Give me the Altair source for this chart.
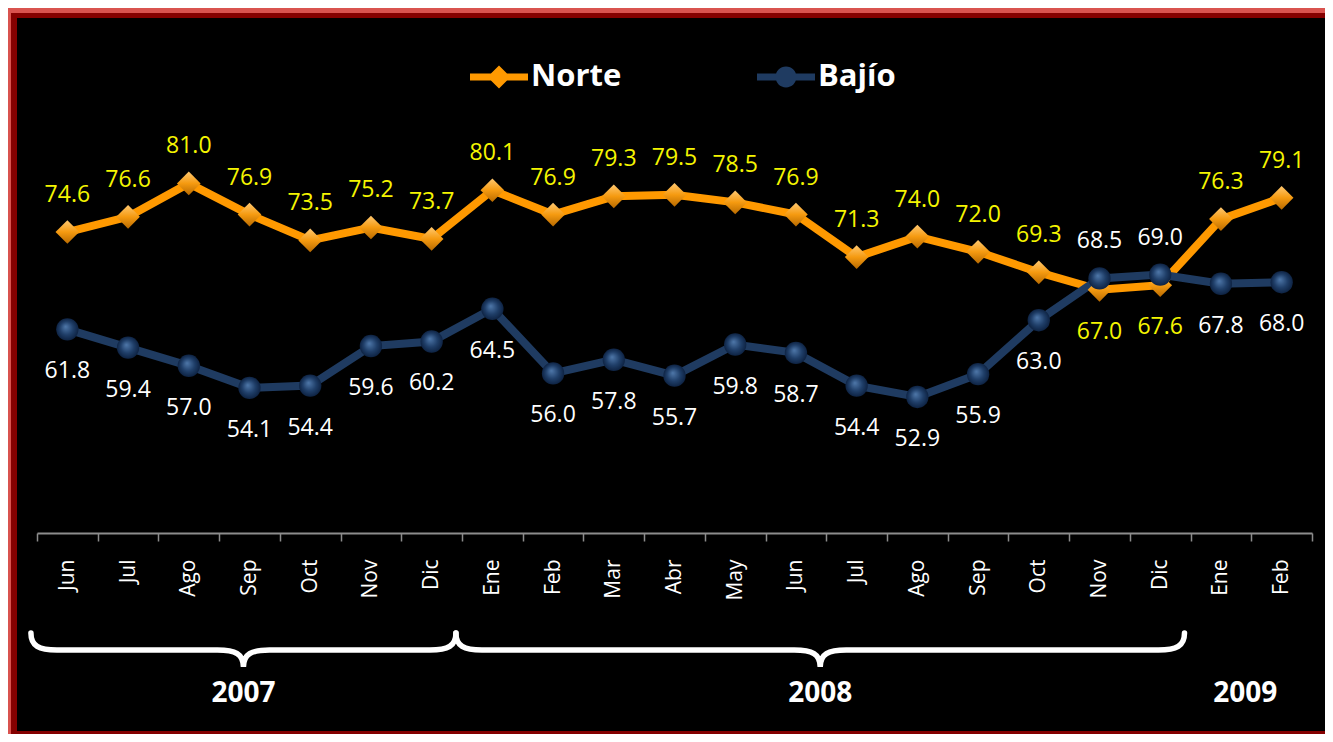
import math
import altair as alt
import pandas as pd

# ---------------- data ----------------
months = ["Jun", "Jul", "Ago", "Sep", "Oct", "Nov", "Dic",
          "Ene", "Feb", "Mar", "Abr", "May", "Jun", "Jul", "Ago", "Sep", "Oct", "Nov", "Dic",
          "Ene", "Feb"]
years = ["2007"] * 7 + ["2008"] * 12 + ["2009"] * 2
norte = [74.6, 76.6, 81.0, 76.9, 73.5, 75.2, 73.7, 80.1, 76.9, 79.3, 79.5,
         78.5, 76.9, 71.3, 74.0, 72.0, 69.3, 67.0, 67.6, 76.3, 79.1]
bajio = [61.8, 59.4, 57.0, 54.1, 54.4, 59.6, 60.2, 64.5, 56.0, 57.8, 55.7,
         59.8, 58.7, 54.4, 52.9, 55.9, 63.0, 68.5, 69.0, 67.8, 68.0]
series = ["Norte", "Bajío"]
year_labels = ["2007", "2008", "2009"]
braced_years = ["2007", "2008"]

# ---------------- styles / layout ----------------
ORANGE = "#FF9900"
NAVY = "#1F3B61"
YELLOW = "#F5F500"
W, H = 1275, 456
PAD = {"left": 29, "top": 69, "right": 13, "bottom": 201}
FONT = "Open Sans"
SHIFT = 0.1  # year groups sit slightly left of the band boundaries

keys = [f"{m} {y}" for m, y in zip(months, years)]
rows = []
for i, k in enumerate(keys):
    for s, vals, other in (("Norte", norte, bajio), ("Bajío", bajio, norte)):
        rows.append({"key": k, "idx": i, "serie": s, "value": vals[i],
                     "top": vals[i] >= other[i]})
df = pd.DataFrame(rows)

step = W / len(keys)


def brace_path(w):
    h, r, k = 17.0, 26.0, 8.0
    pts = [("M", [-w, -h]), ("C", [-w, -4, -w + k, 0, -w + r, 0]), ("L", [-r, 0]),
           ("C", [-k, 0, 0, 4, 0, h]), ("C", [0, 4, k, 0, r, 0]), ("L", [w - r, 0]),
           ("C", [w - k, 0, w, -4, w, -h])]
    return " ".join(cmd + " ".join(f"{n / w:.4f}" for n in nums) for cmd, nums in pts)


yrows = []
for y in year_labels:
    idxs = [i for i, yy in enumerate(years) if yy == y]
    start, end = min(idxs), max(idxs) + 1
    mid = (start + end) / 2 - SHIFT
    anchor = math.floor(mid)
    half = (end - start) * step / 2
    yrows.append({"year": y, "anchor": keys[anchor], "frac": round(mid - anchor, 3),
                  "half": half})
ydf = pd.DataFrame(yrows)

band_scale = alt.Scale(type="band", domain=keys, paddingInner=0, paddingOuter=0)
x_enc = alt.X("key:N", sort=keys, scale=band_scale,
              axis=alt.Axis(title=None, labelAngle=270, labelColor="white",
                            labelFont=FONT, labelFontSize=21, labelPadding=18,
                            tickSize=8, tickColor="#8c8c8c", tickWidth=1.5,
                            domainColor="#8c8c8c", domainWidth=2,
                            tickBand="extent", grid=False, zindex=1,
                            labelExpr="isValid(datum.value) ? split(datum.value, ' ')[0] : ''"))
y_enc = alt.Y("value:Q", scale=alt.Scale(domain=[35, 95], nice=False, zero=False), axis=None)

dummy = pd.DataFrame({"a": [0]})
bg_light = alt.Chart(dummy).mark_rect(color="#D9534F").encode(
    x=alt.value(-29), x2=alt.value(1500), y=alt.value(-69), y2=alt.value(800))
bg_dark = alt.Chart(dummy).mark_rect(color="#840000").encode(
    x=alt.value(-26), x2=alt.value(1500), y=alt.value(-64), y2=alt.value(800))
bg_black = alt.Chart(dummy).mark_rect(color="black").encode(
    x=alt.value(-20), x2=alt.value(1500), y=alt.value(-59), y2=alt.value(654))

base = alt.Chart(df)

diamond_fill = alt.Gradient(
    gradient="linear", x1=0, y1=0, x2=0, y2=1,
    stops=[alt.GradientStop(color="#FFC870", offset=0),
           alt.GradientStop(color="#F59A10", offset=0.5),
           alt.GradientStop(color="#B86A00", offset=1)])
sphere_fill = alt.Gradient(
    gradient="radial", x1=0.42, y1=0.38, r1=0, x2=0.5, y2=0.5, r2=0.5,
    stops=[alt.GradientStop(color="#4F78AA", offset=0),
           alt.GradientStop(color="#1F3E68", offset=0.6),
           alt.GradientStop(color="#0E2343", offset=1)])

layers = [bg_light, bg_dark, bg_black]
style = {"Norte": (ORANGE, "diamond", 560, diamond_fill, YELLOW),
         "Bajío": (NAVY, "circle", 500, sphere_fill, "white")}
for s in series:
    col, shp, sz, grad, tcol = style[s]
    sel = base.transform_filter(alt.datum.serie == s)
    layers.append(sel.mark_line(color=col, strokeWidth=8).encode(x=x_enc, y=y_enc))
for s in series:
    col, shp, sz, grad, tcol = style[s]
    sel = base.transform_filter(alt.datum.serie == s)
    layers.append(sel.mark_point(shape=shp, filled=True, size=sz, opacity=1,
                                 fill=grad, strokeWidth=0).encode(x=x_enc, y=y_enc))
for s in series:
    col, shp, sz, grad, tcol = style[s]
    sel = base.transform_filter(alt.datum.serie == s)
    layers.append(sel.transform_filter(alt.datum.top).mark_text(
        font=FONT, fontSize=23, baseline="middle", dy=-37, color=tcol).encode(
        x=x_enc, y=y_enc, text=alt.Text("value:Q", format=".1f")))
    layers.append(sel.transform_filter(~alt.datum.top).mark_text(
        font=FONT, fontSize=23, baseline="middle", dy=42, color=tcol).encode(
        x=x_enc, y=y_enc, text=alt.Text("value:Q", format=".1f")))

path_norte = ("M-1,-0.12H-0.2V0.12H-1Z M0.2,-0.12H1V0.12H0.2Z "
              "M0,-0.4L0.4,0L0,0.4L-0.4,0Z")
path_bajio = ("M-1,-0.12H-0.2V0.12H-1Z M0.2,-0.12H1V0.12H0.2Z "
              "M-0.36,0 C-0.36,-0.199 -0.199,-0.36 0,-0.36 C0.199,-0.36 0.36,-0.199 0.36,0 "
              "C0.36,0.199 0.199,0.36 0,0.36 C-0.199,0.36 -0.36,0.199 -0.36,0Z")
leg = alt.Legend(title=None, orient="none", legendX=433, legendY=-29,
                 direction="horizontal", columns=2, columnPadding=135,
                 symbolSize=3364, symbolStrokeWidth=0, labelOffset=3, padding=0,
                 labelColor="white", labelFont=FONT, labelFontWeight="bold",
                 labelFontSize=31, zindex=1)
layers.append(base.mark_point(filled=True, opacity=1, size=0).encode(
    x=x_enc, y=y_enc,
    color=alt.Color("serie:N", scale=alt.Scale(domain=series, range=[ORANGE, NAVY]), legend=leg),
    shape=alt.Shape("serie:N", scale=alt.Scale(domain=series, range=[path_norte, path_bajio]),
                    legend=leg),
))

ybase = alt.Chart(ydf)
for r in yrows:
    xy = alt.X("anchor:N", sort=keys, scale=band_scale, bandPosition=float(r["frac"]))
    ysel = ybase.transform_filter(alt.datum.year == r["year"])
    if r["year"] in braced_years:
        layers.append(ysel.mark_point(
            shape=brace_path(r["half"]), size=(2 * r["half"]) ** 2, filled=False,
            opacity=1, stroke="white", strokeWidth=5.5, strokeCap="round").encode(
            x=xy, y=alt.value(573)))
    layers.append(ysel.mark_text(font=FONT, fontWeight="bold", fontSize=28, color="white",
                                 baseline="middle").encode(
        x=xy, y=alt.value(617), text="year:N"))

chart = alt.layer(*layers).properties(
    width=W, height=H, background="black",
    padding=PAD, autosize=alt.AutoSizeParams(type="none"),
).configure_view(strokeWidth=0)

chart.save("out.html", embed_options={"renderer": "svg", "actions": False})
